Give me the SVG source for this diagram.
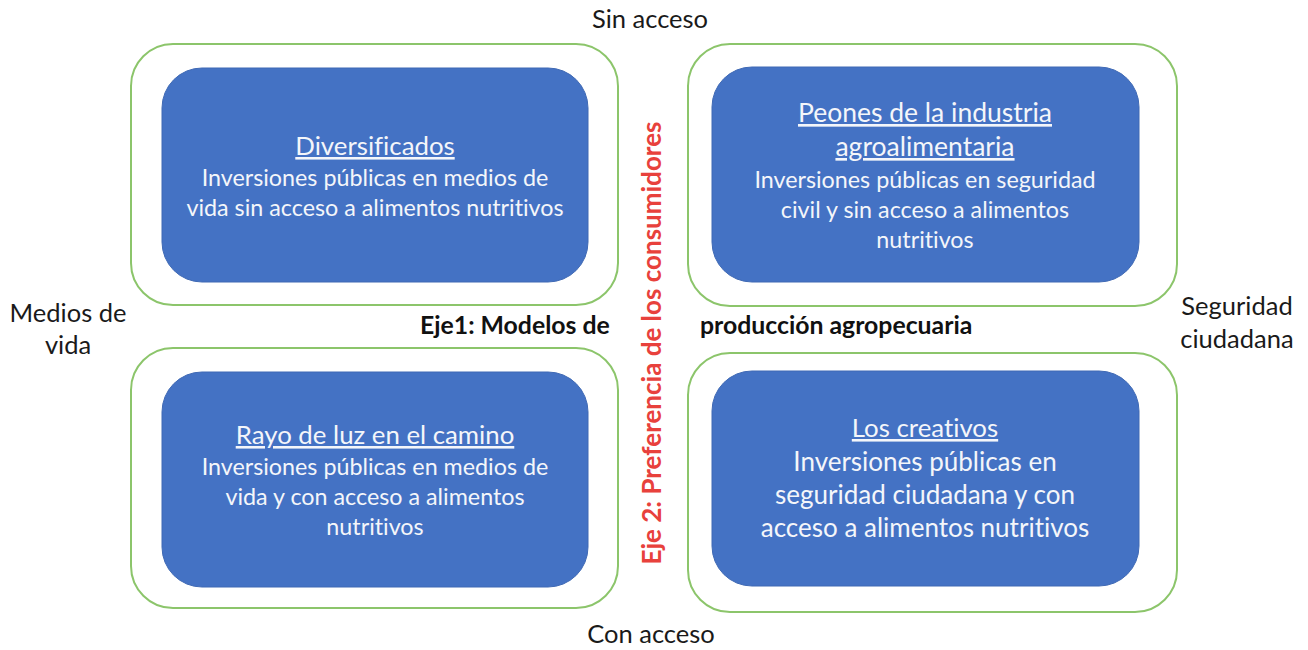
<svg xmlns="http://www.w3.org/2000/svg" width="1308" height="650" viewBox="0 0 1308 650">
<style>
text{font-variant-ligatures:none}
.outer{fill:#ffffff;stroke:#8cc56b;stroke-width:2}
.inner{fill:#4472c4;stroke:#3f69b4;stroke-width:1}
.t{font-family:Lato,"Open Sans",sans-serif;font-size:23.3px;fill:#f4f6fa;text-anchor:middle}
.t4{font-size:26px}
.h{text-decoration:underline;font-size:25.8px}
.lab{font-family:Lato,"Open Sans",sans-serif;font-size:25.5px;fill:#1a1a1a;text-anchor:middle}
.ax{font-family:Lato,"Open Sans",sans-serif;font-size:24.8px;font-weight:bold;fill:#111111}
.ax2{font-family:Lato,"Open Sans",sans-serif;font-size:26px;font-weight:bold;fill:#e8413c;text-anchor:middle}
</style>
<rect width="1308" height="650" fill="#ffffff"/>
<g id="connectors"></g>
<g id="q1">
<rect class="outer" x="131" y="44" width="487" height="261" rx="42"/>
<rect class="inner" x="162" y="68" width="426" height="214" rx="40"/>
<text class="t h" x="375" y="155">Diversificados</text>
<text class="t" x="375" y="186">Inversiones públicas en medios de</text>
<text class="t" x="375" y="216">vida sin acceso a alimentos nutritivos</text>
</g>
<g id="q2">
<rect class="outer" x="688" y="44" width="489" height="262" rx="42"/>
<rect class="inner" x="712" y="67" width="427" height="215" rx="40"/>
<text class="t h" x="925" y="122" style="font-size:26.5px">Peones de la industria</text>
<text class="t h" x="925" y="156" style="font-size:26.5px">agroalimentaria</text>
<text class="t" x="925" y="188">Inversiones públicas en seguridad</text>
<text class="t" x="925" y="218">civil y sin acceso a alimentos</text>
<text class="t" x="925" y="248">nutritivos</text>
</g>
<g id="q3">
<rect class="outer" x="131" y="348" width="487" height="260" rx="42"/>
<rect class="inner" x="162" y="372" width="426" height="215" rx="40"/>
<text class="t h" x="375" y="444">Rayo de luz en el camino</text>
<text class="t" x="375" y="475">Inversiones públicas en medios de</text>
<text class="t" x="375" y="505">vida y con acceso a alimentos</text>
<text class="t" x="375" y="535">nutritivos</text>
</g>
<g id="q4">
<rect class="outer" x="688" y="353" width="489" height="259" rx="42"/>
<rect class="inner" x="712" y="371" width="427" height="215" rx="40"/>
<text class="t h" x="925" y="437">Los creativos</text>
<text class="t t4" x="925" y="471">Inversiones públicas en</text>
<text class="t t4" x="925" y="504">seguridad ciudadana y con</text>
<text class="t t4" x="925" y="537">acceso a alimentos nutritivos</text>
</g>
<g id="labels">
<text class="lab" x="650" y="28">Sin acceso</text>
<text class="lab" x="651" y="643">Con acceso</text>
<text class="lab" x="68" y="322">Medios de</text>
<text class="lab" x="68" y="354">vida</text>
<text class="lab" x="1237" y="315">Seguridad</text>
<text class="lab" x="1237" y="348">ciudadana</text>
</g>
<g id="axes">
<text class="ax" x="420" y="334">Eje1: Modelos de</text>
<text class="ax" x="700" y="334">producción agropecuaria</text>
<text class="ax2" transform="translate(661,343) rotate(-90)">Eje 2: Preferencia de los consumidores</text>
</g>
</svg>
